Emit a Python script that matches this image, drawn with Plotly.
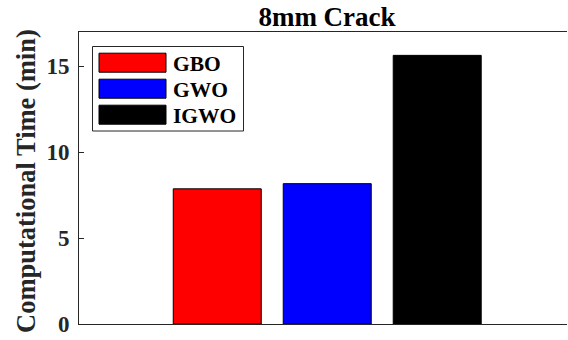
import plotly.graph_objects as go

# Computational time per optimiser, 8mm crack case
methods = ["GBO", "GWO", "IGWO"]
times_min = [7.87, 8.17, 15.64]
colors = ["#ff0000", "#0000ff", "#000000"]
y_ticks = [0, 5, 10, 15]

FONT = "Liberation Serif"
AX = "#262626"

xpos = list(range(1, len(methods) + 1))

fig = go.Figure()
fig.add_trace(go.Bar(
    x=xpos, y=times_min, width=0.8,
    marker=dict(color=colors, line=dict(color="#000000", width=1)),
    showlegend=False, hoverinfo="skip",
))

W, H = 568, 340
L, R, T, B = 79, 1, 32, 16
pw, ph = W - L - R, H - T - B

def px_x(p):
    return (p - L) / pw

def px_y(p):
    return (H - B - p) / ph

shapes = []
annotations = []

# Boxed legend with wide colour swatches
shapes.append(dict(type="rect", xref="paper", yref="paper",
                   x0=px_x(92.5), x1=px_x(243.5), y0=px_y(131), y1=px_y(46.5),
                   line=dict(color=AX, width=1), fillcolor="white", layer="above"))
for i, (name, c) in enumerate(zip(methods, colors)):
    cy = 62.7 + 26 * i
    shapes.append(dict(type="rect", xref="paper", yref="paper",
                       x0=px_x(99), x1=px_x(166), y0=px_y(cy + 9.5), y1=px_y(cy - 9.5),
                       line=dict(color="#000000", width=1), fillcolor=c, layer="above"))
    annotations.append(dict(text="<b>" + name + "</b>", xref="paper", yref="paper",
                            x=px_x(171), y=px_y(cy + 1), xanchor="left", yanchor="middle",
                            showarrow=False,
                            font=dict(family=FONT, size=21.5, color="#000000")))

annotations.append(dict(text="<b>Computational Time (min)</b>", textangle=-90,
                        xref="paper", yref="paper", x=px_x(26), y=px_y(181),
                        xanchor="center", yanchor="middle", showarrow=False,
                        font=dict(family=FONT, size=26.5, color=AX)))

fig.update_layout(
    width=W, height=H,
    margin=dict(l=L, r=R, t=T, b=B),
    paper_bgcolor="white", plot_bgcolor="white",
    title=dict(text="<b>8mm Crack</b>", x=327 / W, xref="container", xanchor="center",
               y=1 - 17 / H, yanchor="middle",
               font=dict(family=FONT, size=27, color="#000000")),
    xaxis=dict(range=[-0.257, 4.18], showticklabels=False, ticks="",
               showgrid=False, zeroline=False, showline=True, linecolor=AX,
               linewidth=1, mirror=True),
    yaxis=dict(range=[0, 17], tickvals=y_ticks, ticks="inside", ticklen=5,
               tickcolor=AX, showgrid=False, zeroline=False, showline=True,
               linecolor=AX, linewidth=1, ticklabelstandoff=4,
               tickfont=dict(family=FONT, size=23, color=AX, weight="bold")),
    shapes=shapes, annotations=annotations,
)

fig.write_html("out.html")
